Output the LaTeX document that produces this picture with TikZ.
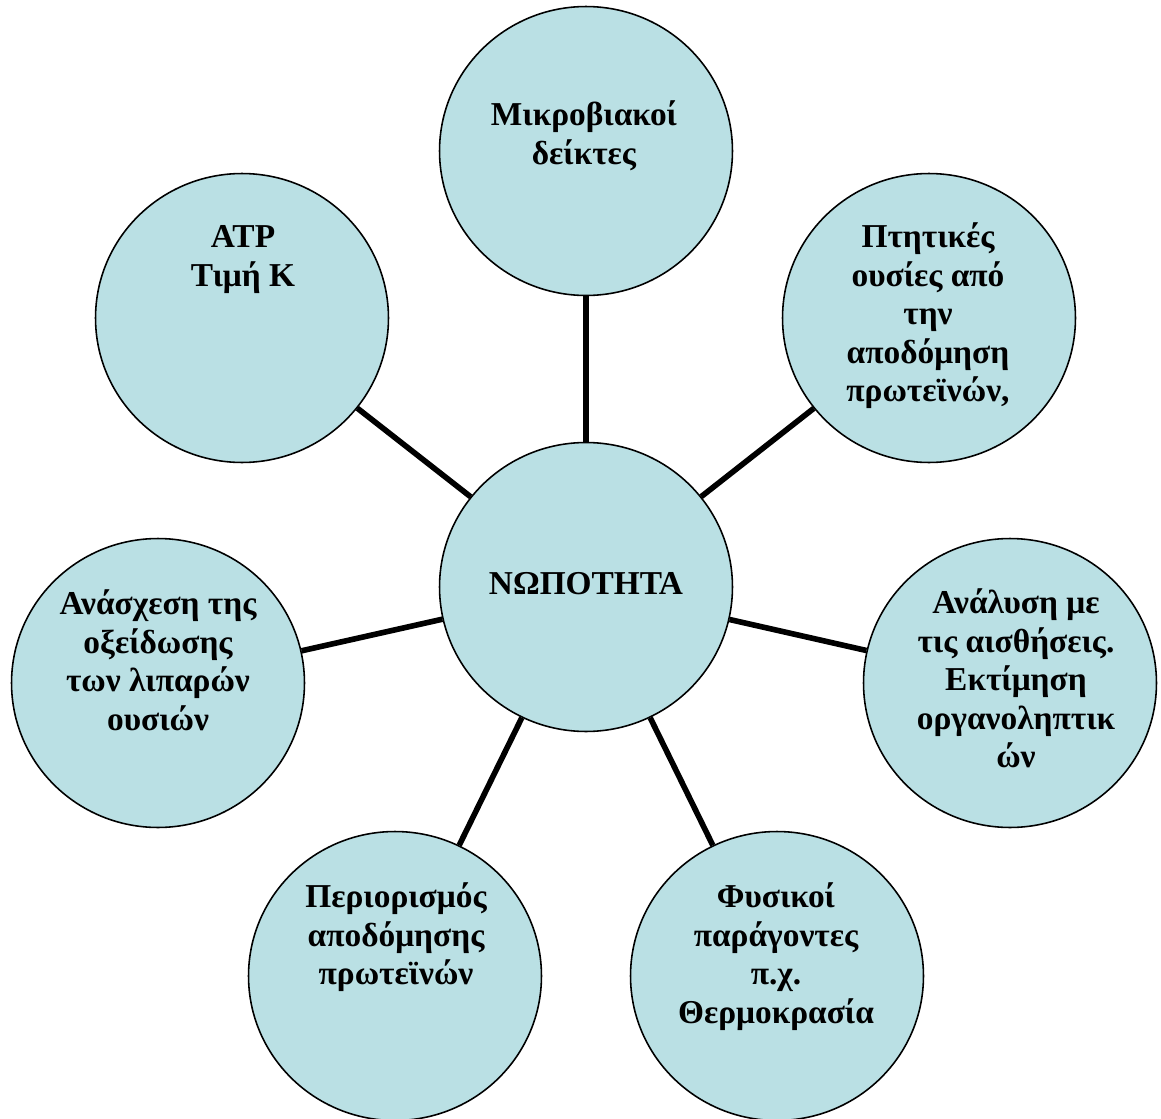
\documentclass[tikz,border=0pt]{standalone}
\usepackage{fontspec}
\setmainfont{Liberation Serif}
\usetikzlibrary{shapes.geometric}
\definecolor{cfill}{RGB}{186,224,228}
\newcommand\myfirststrut{\rule{0pt}{0.9em}}
\begin{document}
\begin{tikzpicture}[x=0.02cm,y=-0.02cm,
  bubble/.style={ellipse, draw=black, line width=0.9pt, fill=cfill,
    minimum width=5.86cm, minimum height=5.78cm, inner sep=0pt},
  txt/.style={anchor=north, align=center, inner sep=0pt,
    font=\fontsize{19}{21.9}\selectfont\bfseries},
  link/.style={line width=3.2pt, black}]
\useasboundingbox (0,0) rectangle (1161,1119);
\node[bubble] (c0) at (586,587) {};
\node[bubble] (c1) at (586,151) {};
\node[bubble] (c2) at (242,318) {};
\node[bubble] (c3) at (929,318) {};
\node[bubble] (c4) at (158,683) {};
\node[bubble] (c5) at (1010,683) {};
\node[bubble] (c6) at (395,976) {};
\node[bubble] (c7) at (777,976) {};
\draw[link] (c0) -- (c1);
\draw[link] (c0) -- (c2);
\draw[link] (c0) -- (c3);
\draw[link] (c0) -- (c4);
\draw[link] (c0) -- (c5);
\draw[link] (c0) -- (c6);
\draw[link] (c0) -- (c7);
\node[txt] (t0) at (586,564.3) {\myfirststrut ΝΩΠΟΤΗΤΑ};
\node[txt] (t1) at (584,95.3) {\myfirststrut Μικροβιακοί\\δείκτες};
\node[txt] (t2) at (243,217.3) {\myfirststrut ATP\\Τιμή Κ};
\node[txt] (t3) at (928,217.3) {\myfirststrut Πτητικές\\ουσίες από\\την\\αποδόμηση\\πρωτεϊνών,};
\node[txt] (t4) at (158,584.3) {\myfirststrut Ανάσχεση της\\οξείδωσης\\των λιπαρών\\ουσιών};
\node[txt] (t5) at (1016,583.3) {\myfirststrut Ανάλυση με\\τις αισθήσεις.\\Εκτίμηση\\οργανοληπτικ\\ών};
\node[txt] (t6) at (396,877.3) {\myfirststrut Περιορισμός\\αποδόμησης\\πρωτεϊνών};
\node[txt] (t7) at (776,877.3) {\myfirststrut Φυσικοί\\παράγοντες\\π.χ.\\Θερμοκρασία};
\end{tikzpicture}
\end{document}
